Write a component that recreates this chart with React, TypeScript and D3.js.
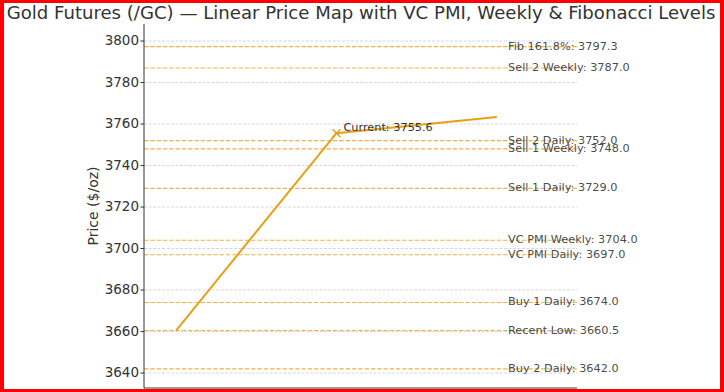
import React from "react";
import * as d3 from "d3";

const title = "Gold Futures (/GC) — Linear Price Map with VC PMI, Weekly & Fibonacci Levels";
const levelNames = [
  "Fib 161.8%",
  "Sell 2 Weekly",
  "Sell 2 Daily",
  "Sell 1 Weekly",
  "Sell 1 Daily",
  "VC PMI Weekly",
  "VC PMI Daily",
  "Buy 1 Daily",
  "Recent Low",
  "Buy 2 Daily",
];
const levelValues = [3797.3, 3787.0, 3752.0, 3748.0, 3729.0, 3704.0, 3697.0, 3674.0, 3660.5, 3642.0];
const pathX = [0, 1, 2];
const pathY = [3660.5, 3755.6, 3763.4];
const currentIndex = 1;
const yTicks = [3640, 3660, 3680, 3700, 3720, 3740, 3760, 3780, 3800];

const W = 724;
const H = 392;
const plot = { left: 144, right: 577, top: 24, bottom: 388 };

export default function App() {
  const x = d3.scaleLinear().domain([-0.2, 2.5]).range([plot.left, plot.right]);
  const y = d3.scaleLinear().domain([3632.8, 3808.2]).range([plot.bottom, plot.top]);
  const line = d3
    .line<number>()
    .x((_, i) => x(pathX[i]))
    .y((d) => y(d));
  const font = "'DejaVu Sans', sans-serif";
  const cx = x(pathX[currentIndex]);
  const cy = y(pathY[currentIndex]);
  const labelX = x(2.07);
  return (
    <svg
      width={W}
      height={H}
      style={{ position: "absolute", left: 0, top: 0, fontFamily: font }}
    >
      <rect x={0} y={0} width={W} height={H} fill="#ff0000" />
      <rect x={4} y={3} width={W - 8} height={H - 6} fill="#ffffff" />
      <text x={361} y={19} textAnchor="middle" fontSize={18.1} fill="#333">
        {title}
      </text>
      {/* grid */}
      {yTicks.map((t) => (
        <line
          key={"g" + t}
          x1={plot.left}
          x2={plot.right}
          y1={y(t)}
          y2={y(t)}
          stroke="#cccccc"
          strokeWidth={0.8}
          strokeDasharray="3,1.5"
        />
      ))}
      {/* level lines */}
      {levelValues.map((v, i) => (
        <line
          key={"l" + i}
          x1={plot.left}
          x2={plot.right}
          y1={y(v)}
          y2={y(v)}
          stroke="#eba32c"
          strokeOpacity={0.85}
          strokeWidth={1.2}
          strokeDasharray="4.4,1.9"
        />
      ))}
      {/* path */}
      <path d={line(pathY) || ""} fill="none" stroke="#e8a015" strokeWidth={2} />
      <g stroke="#e8a015" strokeWidth={1.5}>
        <line x1={cx - 4} y1={cy - 4} x2={cx + 4} y2={cy + 4} />
        <line x1={cx - 4} y1={cy + 4} x2={cx + 4} y2={cy - 4} />
      </g>
      <text x={cx + 7} y={cy - 5} fontSize={11.3} fill="#333" dominantBaseline="middle">
        {`Current: ${pathY[currentIndex].toFixed(1)}`}
      </text>
      {levelValues.map((v, i) => (
        <text
          key={"t" + i}
          x={labelX}
          y={y(v)}
          fontSize={11.3}
          fill="#333"
          fillOpacity={0.9}
          dominantBaseline="middle"
        >
          {`${levelNames[i]}: ${v.toFixed(1)}`}
        </text>
      ))}
      {/* axes */}
      <line x1={plot.left} x2={plot.left} y1={plot.top} y2={plot.bottom} stroke="#333" strokeWidth={1} />
      <line x1={plot.left} x2={plot.right} y1={plot.bottom} y2={plot.bottom} stroke="#333" strokeWidth={1} />
      {yTicks.map((t) => (
        <g key={"k" + t}>
          <line x1={plot.left - 3.5} x2={plot.left} y1={y(t)} y2={y(t)} stroke="#333" />
          <text
            x={plot.left - 5}
            y={y(t)}
            fontSize={13.5}
            fill="#333"
            textAnchor="end"
            dominantBaseline="middle"
          >
            {t}
          </text>
        </g>
      ))}
      <text
        transform={`translate(98, ${(plot.top + plot.bottom) / 2}) rotate(-90)`}
        textAnchor="middle"
        fontSize={14}
        fill="#333"
      >
        Price ($/oz)
      </text>
    </svg>
  );
}
